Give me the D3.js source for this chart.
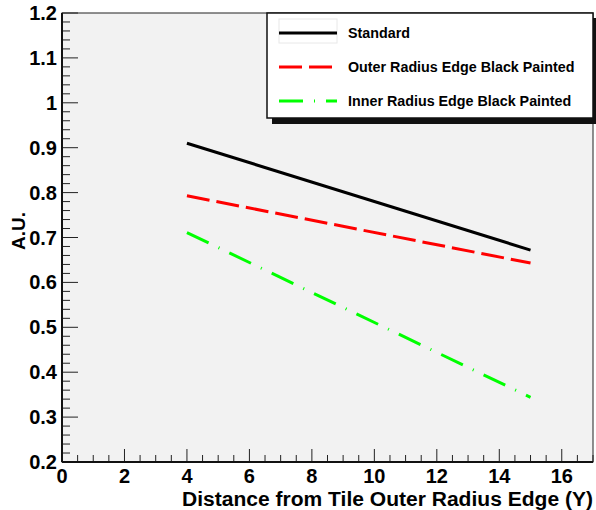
<!DOCTYPE html>
<html lang="en">
<head>
    <meta charset="UTF-8">
    <title>A.U. vs Distance</title>
    <script src="https://cdnjs.cloudflare.com/ajax/libs/d3/7.8.4/d3.min.js"></script>
    <style>
        body { margin: 0; background: #fff; }
        svg { display: block; font-family: "Liberation Sans", Arial, sans-serif; font-weight: bold; }
    </style>
</head>
<body>
    <svg width="596" height="510"></svg>

    <script>
        // data
        const distance = [4, 15];
        const standard = [0.910, 0.672];
        const outerPainted = [0.793, 0.643];
        const innerPainted = [0.711, 0.344];

        const seriesNames = ["Standard", "Outer Radius Edge Black Painted", "Inner Radius Edge Black Painted"];
        const seriesColors = ["#000000", "#ff0000", "#00ff00"];
        const seriesDash = [null, "23,7", "24,11,1,11"];
        const seriesValues = [standard, outerPainted, innerPainted];

        const xMajor = [0, 2, 4, 6, 8, 10, 12, 14, 16];
        const yMajor = [0.2, 0.3, 0.4, 0.5, 0.6, 0.7, 0.8, 0.9, 1, 1.1, 1.2];

        const frameL = 62, frameR = 593, frameT = 13, frameB = 462;

        const svg = d3.select("svg");

        const x = d3.scaleLinear().domain([0, 17]).range([frameL, frameR]);
        const y = d3.scaleLinear().domain([0.2, 1.2]).range([frameB, frameT]);

        // frame
        svg.append("rect")
            .attr("x", frameL).attr("y", frameT)
            .attr("width", frameR - frameL).attr("height", frameB - frameT)
            .style("fill", "#f2f2f2")
            .style("stroke", "#222")
            .style("stroke-width", 1);

        // minor ticks
        const xMinor = d3.range(0, 17.01, 0.5).filter(v => v % 2 !== 0);
        const yMinor = d3.range(0, 51).map(i => 0.2 + i * 0.02).filter(v => Math.abs(v * 10 - Math.round(v * 10)) > 1e-6);

        const ticks = svg.append("g").style("stroke", "#222").style("stroke-width", 1);
        ticks.selectAll("line.xmaj").data(xMajor).enter().append("line")
            .attr("x1", d => x(d)).attr("x2", d => x(d))
            .attr("y1", frameB).attr("y2", frameB - 13);
        ticks.selectAll("line.xmin").data(xMinor).enter().append("line")
            .attr("x1", d => x(d)).attr("x2", d => x(d))
            .attr("y1", frameB).attr("y2", frameB - 7);
        ticks.selectAll("line.ymaj").data(yMajor).enter().append("line")
            .attr("x1", frameL).attr("x2", frameL + 16)
            .attr("y1", d => y(d)).attr("y2", d => y(d));
        ticks.selectAll("line.ymin").data(yMinor).enter().append("line")
            .attr("x1", frameL).attr("x2", frameL + 8)
            .attr("y1", d => y(d)).attr("y2", d => y(d));

        // axis lines
        svg.append("line").attr("x1", frameL).attr("x2", frameL).attr("y1", frameT).attr("y2", frameB)
            .style("stroke", "#111").style("stroke-width", 2);
        svg.append("line").attr("x1", frameL).attr("x2", frameR).attr("y1", frameB).attr("y2", frameB)
            .style("stroke", "#111").style("stroke-width", 2);

        // tick labels
        svg.selectAll("text.xl").data(xMajor).enter().append("text")
            .attr("x", d => x(d)).attr("y", 483)
            .attr("text-anchor", "middle")
            .style("font-size", "20px")
            .text(d => d);
        svg.selectAll("text.yl").data(yMajor).enter().append("text")
            .attr("x", 57).attr("y", d => y(d) + 7)
            .attr("text-anchor", "end")
            .style("font-size", "20px")
            .text(d => d3.format("")(+d.toFixed(1)));

        // axis titles
        svg.append("text")
            .attr("x", 182).attr("y", 506)
            .attr("textLength", 411)
            .attr("lengthAdjust", "spacingAndGlyphs")
            .style("font-size", "19.5px")
            .text("Distance from Tile Outer Radius Edge (Y)");
        svg.append("text")
            .attr("transform", "translate(25,231) rotate(-90)")
            .attr("text-anchor", "middle")
            .style("font-size", "19px")
            .text("A.U.");

        // series
        const line = d3.line().x(d => x(d[0])).y(d => y(d[1]));
        seriesValues.forEach((vals, i) => {
            svg.append("path")
                .datum(distance.map((d, j) => [d, vals[j]]))
                .attr("d", line)
                .style("fill", "none")
                .style("stroke", seriesColors[i])
                .style("stroke-width", 3)
                .style("stroke-dasharray", seriesDash[i]);
        });

        // legend
        const lg = svg.append("g");
        lg.append("rect").attr("x", 272).attr("y", 18).attr("width", 324).attr("height", 106)
            .style("fill", "#111");
        lg.append("rect").attr("x", 267).attr("y", 13).attr("width", 326).attr("height", 105)
            .style("fill", "#fff").style("stroke", "#111").style("stroke-width", 1.5);
        lg.append("rect").attr("x", 279).attr("y", 19).attr("width", 58).attr("height", 24)
            .style("fill", "none").style("stroke", "#e8e8e8");
        seriesNames.forEach((name, i) => {
            const ly = 33 + i * 34;
            lg.append("line").attr("x1", 279).attr("x2", 337).attr("y1", ly).attr("y2", ly)
                .style("stroke", seriesColors[i]).style("stroke-width", 3)
                .style("stroke-dasharray", seriesDash[i]);
            lg.append("text").attr("x", 348).attr("y", ly + 5)
                .style("font-size", "14.3px")
                .text(name);
        });
    </script>
</body>
</html>
